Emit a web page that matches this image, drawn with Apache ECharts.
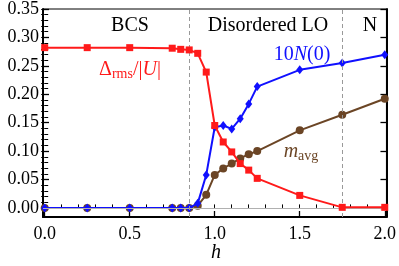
<!DOCTYPE html>
<html>
<head>
<meta charset="utf-8">
<script src="https://cdn.jsdelivr.net/npm/echarts@6/dist/echarts.min.js"></script>
<style>html,body{margin:0;padding:0;background:#fff}#c{width:399px;height:266px}</style>
</head>
<body>
<div id="c"></div>
<script>
var hValues = [0, 0.25, 0.5, 0.75, 0.8, 0.85, 0.9, 0.95, 1.0, 1.05, 1.1, 1.15, 1.2, 1.25, 1.5, 1.75, 2.0];
var deltaRms = [0.282, 0.282, 0.282, 0.281, 0.279, 0.278, 0.272, 0.239, 0.145, 0.116, 0.0985, 0.078, 0.0665, 0.052, 0.022, 0.001, 0.001];
var tenN0 = [0, 0, 0, 0, 0, 0, 0.008, 0.058, 0.142, 0.145, 0.139, 0.157, 0.183, 0.2135, 0.243, 0.255, 0.2695];
var mAvg = [0, 0, 0, 0, 0, 0, 0.004, 0.023, 0.058, 0.0695, 0.078, 0.087, 0.0945, 0.100, 0.1365, 0.164, 0.192];
var xTicks = [0, 0.5, 1.0, 1.5, 2.0];
var yTicks = [0, 0.05, 0.10, 0.15, 0.20, 0.25, 0.30, 0.35];
var phaseBounds = [0.85, 1.75];

function pairs(ys) { return hValues.map(function (x, i) { return [x, ys[i]]; }); }
var xMinor = [], yMinor = [];
for (var i = 0; i <= 20; i++) xMinor.push(+(i * 0.1).toFixed(2));
for (var j = 0; j <= 35; j++) yMinor.push(+(j * 0.01).toFixed(2));

var serif = 'Liberation Serif';
var red = '#ff1a1a', blue = '#1010ff', brown = '#6b4525';
var XMIN = -0.01, XMAX = 2.01, YMIN = -0.016, YMAX = 0.35;

function xAx(extra) {
  return Object.assign({
    type: 'value', min: XMIN, max: XMAX, position: 'bottom',
    splitLine: { show: false },
    axisLine: { show: false },
    axisTick: { show: false },
    axisLabel: { show: false }
  }, extra);
}
function yAx(extra) {
  return Object.assign({
    type: 'value', min: YMIN, max: YMAX, position: 'left',
    splitLine: { show: false },
    axisLine: { show: false },
    axisTick: { show: false },
    axisLabel: { show: false }
  }, extra);
}

var chart = echarts.init(document.getElementById('c'));
chart.setOption({
  animation: false,
  grid: { left: 43, right: 9, top: 9, bottom: 49, show: true, borderColor: '#000', borderWidth: 1, backgroundColor: 'transparent' },
  xAxis: [
    xAx({
      axisLine: { show: true, onZero: false, lineStyle: { color: '#000', width: 2 } },
      axisTick: { show: true, inside: true, length: 6, customValues: xTicks, lineStyle: { color: '#000', width: 1.3 } },
      axisLabel: { show: true, customValues: xTicks, margin: 8, color: '#000', fontFamily: serif, fontSize: 18,
        formatter: function (v) { return v.toFixed(1); } }
    }),
    xAx({ axisTick: { show: true, inside: true, length: 3.5, customValues: xMinor, lineStyle: { color: '#000', width: 1 } } })
  ],
  yAxis: [
    yAx({
      axisLine: { show: true, onZero: false, lineStyle: { color: '#000', width: 2 } },
      axisTick: { show: true, inside: true, length: 6, customValues: yTicks, lineStyle: { color: '#000', width: 1.3 } },
      axisLabel: { show: true, customValues: yTicks, margin: 4, color: '#000', fontFamily: serif, fontSize: 18,
        formatter: function (v) { return v.toFixed(2); } }
    }),
    yAx({ axisTick: { show: true, inside: true, length: 3.5, customValues: yMinor, lineStyle: { color: '#000', width: 1 } } }),
    yAx({ position: 'right',
      axisLine: { show: true, onZero: false, lineStyle: { color: '#000', width: 2 } },
      axisTick: { show: true, inside: true, length: 6, customValues: yTicks, lineStyle: { color: '#000', width: 1.3 } } }),
    yAx({ position: 'right', axisTick: { show: true, inside: true, length: 3.5, customValues: yMinor, lineStyle: { color: '#000', width: 1 } } })
  ],
  series: [
    {
      type: 'line', data: pairs(mAvg), color: brown, symbol: 'circle', symbolSize: 8,
      lineStyle: { width: 2, color: brown }, itemStyle: { color: brown }, z: 3,
      markLine: {
        silent: true, symbol: 'none', label: { show: false },
        data: [
          { yAxis: 0, lineStyle: { color: '#b0b0b0', width: 1, type: 'solid' } },
          { xAxis: phaseBounds[0], lineStyle: { color: '#999', width: 1, type: [4, 3] } },
          { xAxis: phaseBounds[1], lineStyle: { color: '#999', width: 1, type: [4, 3] } }
        ]
      }
    },
    {
      type: 'line', data: pairs(tenN0), color: blue, symbol: 'diamond', symbolSize: [7, 9],
      lineStyle: { width: 2, color: blue }, itemStyle: { color: blue }, z: 4
    },
    {
      type: 'line', data: pairs(deltaRms), color: red, symbol: 'rect', symbolSize: 7,
      lineStyle: { width: 2, color: red }, itemStyle: { color: red }, z: 5
    }
  ],
  graphic: [
    { type: 'text', x: 130, y: 26, style: { text: 'BCS', font: '20px "Liberation Serif"', fill: '#000', align: 'center', verticalAlign: 'middle' } },
    { type: 'text', x: 268, y: 26, style: { text: 'Disordered LO', font: '20px "Liberation Serif"', fill: '#000', align: 'center', verticalAlign: 'middle' } },
    { type: 'text', x: 370, y: 26, style: { text: 'N', font: '20px "Liberation Serif"', fill: '#000', align: 'center', verticalAlign: 'middle' } },
    { type: 'text', x: 302, y: 55, style: { text: '10{i|N}(0)', font: '20px "Liberation Serif"', fill: blue, align: 'center', verticalAlign: 'middle',
        rich: { i: { fontStyle: 'italic', fontFamily: serif, fontSize: 20, fill: blue } } } },
    { type: 'text', x: 130, y: 70, style: { text: 'Δ{s|rms}/|{i|U}|', font: '20px "Liberation Serif"', fill: red, align: 'center', verticalAlign: 'middle',
        rich: { i: { fontStyle: 'italic', fontFamily: serif, fontSize: 20, fill: red },
                s: { fontFamily: serif, fontSize: 14, fill: red, padding: [8, 0, 0, 0] } } } },
    { type: 'text', x: 301, y: 152, style: { text: '{i|m}{s|avg}', font: '20px "Liberation Serif"', fill: brown, align: 'center', verticalAlign: 'middle',
        rich: { i: { fontStyle: 'italic', fontFamily: serif, fontSize: 20, fill: brown },
                s: { fontFamily: serif, fontSize: 14, fill: brown, padding: [8, 0, 0, 0] } } } },
    { type: 'text', x: 216, y: 253, style: { text: 'h', font: 'italic 20px "Liberation Serif"', fill: '#000', align: 'center', verticalAlign: 'middle' } }
  ]
});
</script>
</body>
</html>
